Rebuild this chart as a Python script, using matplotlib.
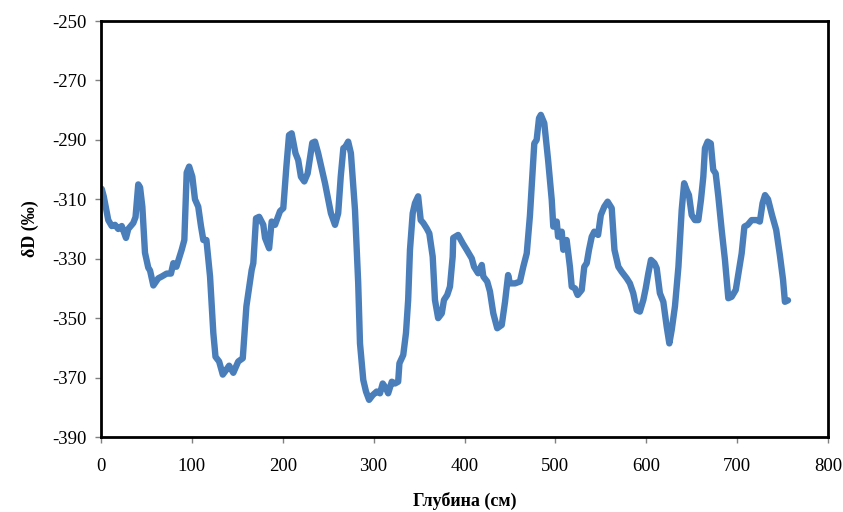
import matplotlib
matplotlib.use("Agg")
import matplotlib.pyplot as plt

depth = [0.8, 3, 8, 11.8, 15.4, 19, 22.8, 27.5, 30, 35.5, 38, 41, 43, 45.5, 48.4, 52, 54, 57.6,
         63, 66.8, 72.3, 77, 79.6, 83, 88.8, 91.7, 94.3, 97, 100.5, 103.4, 107, 110, 112.6, 116,
         120, 123.6, 126, 130, 134, 137.6, 141, 145.6, 151, 156, 160, 165.8, 167.6, 170.6, 174,
         178.6, 180.5, 185, 187.8, 191.5, 197, 200.6, 204, 206.9, 209.8, 214, 217, 220, 223.7,
         227.4, 232.5, 235.5, 239, 246.5, 253, 257.5, 261, 263.8, 266.7, 269, 272, 275, 279.5,
         283, 285, 288.6, 291.6, 295, 299, 303.4, 307, 310, 313.6, 316, 320, 323.5, 327, 328.4,
         332.6, 335.6, 338, 340, 343, 345.5, 349, 351.8, 354.7, 358.4, 361.3, 365, 367.5, 371,
         375, 377.4, 381, 384, 387, 387.6, 393, 398, 402.4, 408, 410.5, 415, 419, 420.7, 425,
         428, 431.7, 436, 441, 444.6, 448, 450, 455.6, 461, 464.7, 468.5, 472, 476.8, 479.4,
         482, 484, 487.8, 492, 496, 497.7, 501.5, 503, 507, 508.7, 512.4, 516, 518, 521.6,
         524.5, 529, 531.8, 534.5, 537, 540, 542.8, 547, 550, 553.8, 557.5, 562, 565, 569.3,
         573, 578.5, 582, 585.7, 589.5, 593, 596.8, 599.4, 602.3, 605.2, 609, 611.5, 615,
         618.8, 622.5, 625.4, 628, 631.6, 635.4, 639, 641.7, 644.5, 647, 650, 653.6, 657.3,
         660.2, 662.8, 664.6, 667.6, 671, 673.7, 676.4, 679.3, 683, 686.6, 690.3, 694, 698.5,
         702, 705, 708, 711.6, 716, 721.6, 725, 728, 730.7, 734, 738.4, 743, 747, 750.5,
         752.6, 756]
dD = [-306.5, -309, -317, -319, -318.6, -320, -319, -323, -320, -318, -316, -305, -306, -312.5,
      -328, -333, -334, -339, -336.6, -336, -335, -335, -331.5, -332.7, -327, -323.7, -301,
      -299, -302.4, -310, -312.5, -319, -323.7, -323.7, -336, -355, -363, -364.6, -369,
      -367.5, -366, -368.4, -364.6, -363.5, -346, -333.8, -331.5, -316.4, -315.9, -318.6,
      -323, -326.5, -317.5, -318.6, -314, -313, -299, -288.4, -287.8, -294.5, -296.8, -302.4,
      -304, -301.3, -291, -290.6, -294.5, -304.6, -314.7, -318.6, -314.7, -302.4, -292.8,
      -292.3, -290.6, -294.5, -313.6, -338, -358.5, -370.8, -374.7, -377.5, -375.9, -374.7,
      -375.3, -372, -373.6, -375.3, -371.4, -372, -371.4, -365.2, -362.4, -355, -343.9, -327,
      -314.7, -311.3, -309, -317, -318, -319.8, -321.5, -329.3, -343.9, -350, -348.4, -343.9,
      -342.2, -339.4, -329.3, -323, -322, -324.8, -327, -329.9, -332.7, -334.9, -332.1, -336,
      -337.7, -341, -348.4, -353.4, -352.3, -344.5, -335.5, -338.3, -338.3, -337.7, -332.7,
      -328.2, -315.5, -291.2, -290, -282.7, -281.6, -284.4, -296.8, -310.2, -319.2, -317.5,
      -322.6, -320.9, -327, -323.7, -332.7, -339.4, -340, -342.2, -340.5, -332.7, -331.5,
      -327, -322.6, -320.9, -322, -315.3, -312.5, -310.8, -313, -327, -332.7, -334.4, -336.6,
      -338.3, -341.6, -347.3, -347.8, -343.9, -340, -334.9, -330.4, -331.5, -333.2, -341.6,
      -344.5, -352.9, -358.5, -354, -346, -332.7, -313.6, -304.6, -306.9, -308.6, -315.3,
      -317, -317, -310.2, -302.4, -292.8, -290.6, -291.2, -300.1, -301.3, -309, -320.3,
      -330.4, -343.3, -342.8, -340.5, -333.8, -328.2, -319.2, -318.6, -317, -317, -317.5,
      -311.3, -308.6, -310, -315.3, -320.3, -328.7, -337, -344.5, -344]

xticks = [0, 100, 200, 300, 400, 500, 600, 700, 800]
yticks = [-390, -370, -350, -330, -310, -290, -270, -250]

plt.rcParams['font.family'] = ['Liberation Serif', 'DejaVu Serif']
plt.rcParams['axes.unicode_minus'] = False

fig = plt.figure(figsize=(8.43, 5.12), dpi=100)
ax = fig.add_axes([101/843, 1-437/512, 727/843, 416/512])
ax.plot(depth, dD, color='#4A7EBB', linewidth=4.6, solid_joinstyle='round', solid_capstyle='round')
ax.set_xlim(0, 800)
ax.set_ylim(-390, -250)
ax.set_xticks(xticks)
ax.set_yticks(yticks)
ax.tick_params(direction='out', length=4, width=1, color='#808080', labelsize=13.5, pad=6)
ax.tick_params(axis='x', pad=11)
for s in ax.spines.values():
    s.set_linewidth(2)
    s.set_color('black')
ax.set_xlabel('Глубина (см)', fontsize=13, fontweight='bold', labelpad=12)
ax.set_ylabel('δD (‰)', fontsize=13, fontweight='bold', labelpad=10)
fig.savefig('out.png', dpi=100)
